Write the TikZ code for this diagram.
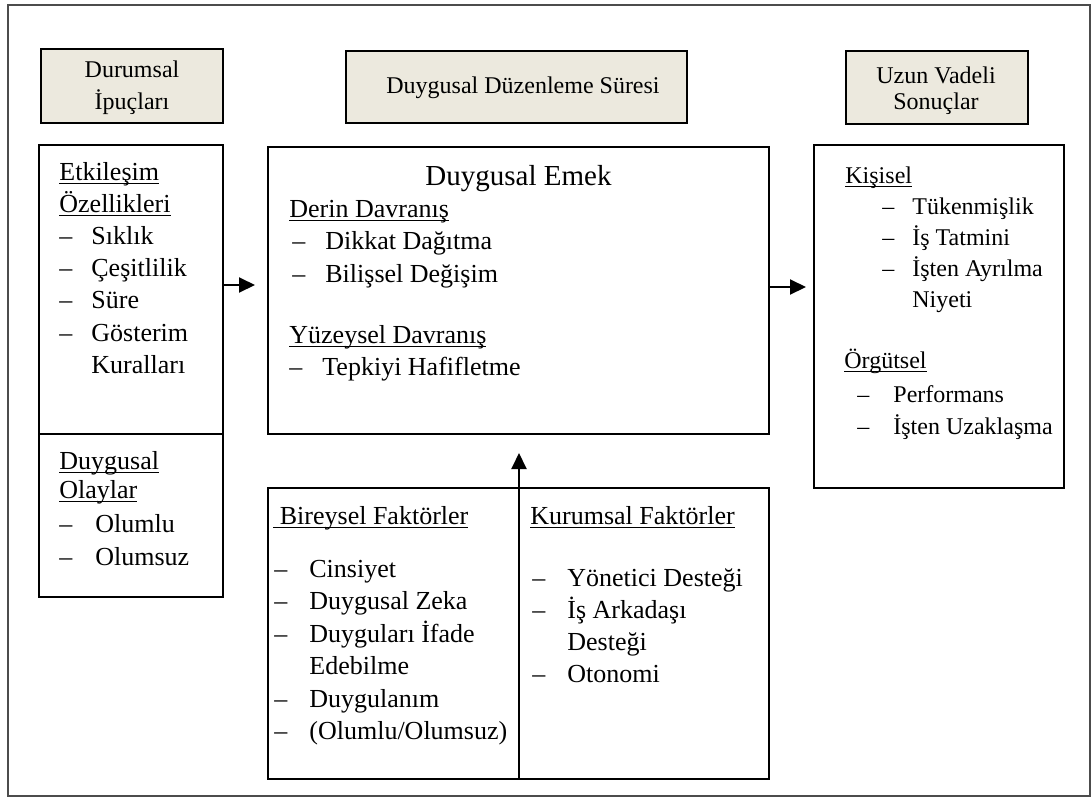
\documentclass[tikz,border=0pt]{standalone}
\usepackage{fontspec}
\setmainfont{Liberation Serif}
\usepackage{tikz}
\usepackage{tkz-euclide}
\usetikzlibrary{arrows.meta}

\definecolor{headfill}{RGB}{236,233,222}
\newcommand{\ulword}[1]{\setbox0\hbox{#1}\rlap{\rule[-2.2pt]{\wd0}{0.6pt}}\box0}

\tikzset{
    headbox/.style={draw=black,line width=1pt,fill=headfill},
    bodybox/.style={draw=black,line width=1pt},
    htxt/.style={anchor=base,inner sep=0pt,font=\fontsize{12}{16}\selectfont},
    txt/.style={anchor=base west,inner sep=0pt,font=\fontsize{13}{16}\selectfont},
    rtxt/.style={anchor=base west,inner sep=0pt,font=\fontsize{12}{16}\selectfont},
    bigtxt/.style={anchor=base,inner sep=0pt,font=\fontsize{14.5}{18}\selectfont},
    flow/.style={line width=1pt,-{Triangle[length=8pt,width=7.5pt]}}
}

\begin{document}
\begin{tikzpicture}[x=0.5pt,y=-0.5pt]
    \useasboundingbox (0,0) rectangle (1092,798);
    \tkzDefPoints{8/5/F1,1090/796/F2,41/49/H1a,223/123/H1b,346/51/H2a,687/123/H2b,846/51/H3a,1028/124/H3b}
    \tkzDefPoints{39/145/L1,223/597/L2,39/434/LD1,223/434/LD2,268/147/C1,769/434/C2,814/145/R1,1064/488/R2,268/488/B1,769/779/B2}
    \tkzDefPoints{223/285/A1,255/285/A2,769/287/A3,806/287/A4,519/779/A5,519/453/A6}

    % frame and boxes
    \draw[line width=0.75pt,black!70] (F1) rectangle (F2);
    \draw[headbox] (H1a) rectangle (H1b);
    \draw[headbox] (H2a) rectangle (H2b);
    \draw[headbox] (H3a) rectangle (H3b);
    \draw[bodybox] (L1) rectangle (L2);
    \draw[bodybox] (LD1) -- (LD2);
    \draw[bodybox] (C1) rectangle (C2);
    \draw[bodybox] (R1) rectangle (R2);
    \draw[bodybox] (B1) rectangle (B2);

    % arrows
    \draw[flow] (A1) -- (A2);
    \draw[flow] (A3) -- (A4);
    \draw[flow] (A5) -- (A6);

    % headers
    \node[htxt] (cue1) at (132,77) {Durumsal};
    \node[htxt] (cue2) at (132,109) {İpuçları};
    \node[htxt] (reg) at (523,93) {Duygusal Düzenleme Süresi};
    \node[htxt] (out1) at (936,83) {Uzun Vadeli};
    \node[htxt] (out2) at (936,109) {Sonuçlar};

    % left box
    \node[txt] (etk1) at (59,180) {\ulword{Etkileşim}};
    \node[txt] (etk2) at (59,212) {\ulword{Özellikleri}};
    \foreach \yy/\nm/\txt in {244/sik/Sıklık,276/ces/Çeşitlilik,308/sur/Süre,341/gos/Gösterim}{
        \node[txt] (d-\nm) at (59,\yy) {–};
        \node[txt] (\nm) at (91,\yy) {\txt};
    }
    \node[txt] (kur) at (91,373) {Kuralları};
    \node[txt] (olay1) at (59,469) {\ulword{Duygusal}};
    \node[txt] (olay2) at (59,498) {\ulword{Olaylar}};
    \foreach \yy/\nm/\txt in {532/olu/Olumlu,565/olz/Olumsuz}{
        \node[txt] (d-\nm) at (59,\yy) {–};
        \node[txt] (\nm) at (95,\yy) {\txt};
    }

    % centre box
    \node[bigtxt] (emek) at (518.5,185) {Duygusal Emek};
    \node[txt] (derin) at (289,217) {\ulword{Derin Davranış}};
    \foreach \yy/\nm/\txt in {249/dik/Dikkat Dağıtma,282/bil/Bilişsel Değişim}{
        \node[txt] (d-\nm) at (292,\yy) {–};
        \node[txt] (\nm) at (325,\yy) {\txt};
    }
    \node[txt] (yuz) at (289,343) {\ulword{Yüzeysel Davranış}};
    \node[txt] (d-tep) at (289,375) {–};
    \node[txt] (tep) at (322,375) {Tepkiyi Hafifletme};

    % right box
    \node[rtxt] (kis) at (845,183) {\ulword{Kişisel}};
    \foreach \yy/\nm/\txt in {214/tuk/Tükenmişlik,245/tat/İş Tatmini,276/ayr/İşten Ayrılma}{
        \node[rtxt] (d-\nm) at (882,\yy) {–};
        \node[rtxt] (\nm) at (912,\yy) {\txt};
    }
    \node[rtxt] (niy) at (912,307) {Niyeti};
    \node[rtxt] (org) at (844,368) {\ulword{Örgütsel}};
    \foreach \yy/\nm/\txt in {402/per/Performans,434/uza/İşten Uzaklaşma}{
        \node[rtxt] (d-\nm) at (857,\yy) {–};
        \node[rtxt] (\nm) at (893,\yy) {\txt};
    }

    % bottom box
    \node[txt] (bir) at (273,524) {\ulword{\ Bireysel Faktörler}};
    \node[txt] (kurf) at (530,524) {\ulword{Kurumsal Faktörler}};
    \foreach \yy/\nm/\txt in {577/cin/Cinsiyet,609/zek/Duygusal Zeka,642/ifa/Duyguları İfade,707/dgl/Duygulanım,739/olm/{(Olumlu/Olumsuz)}}{
        \node[txt] (d-\nm) at (274,\yy) {–};
        \node[txt] (\nm) at (309,\yy) {\txt};
    }
    \node[txt] (ede) at (309,674) {Edebilme};
    \foreach \yy/\nm/\txt in {586/yon/Yönetici Desteği,618/ark/İş Arkadaşı,682/oto/Otonomi}{
        \node[txt] (d-\nm) at (532,\yy) {–};
        \node[txt] (\nm) at (567,\yy) {\txt};
    }
    \node[txt] (des) at (567,650) {Desteği};
\end{tikzpicture}
\end{document}
